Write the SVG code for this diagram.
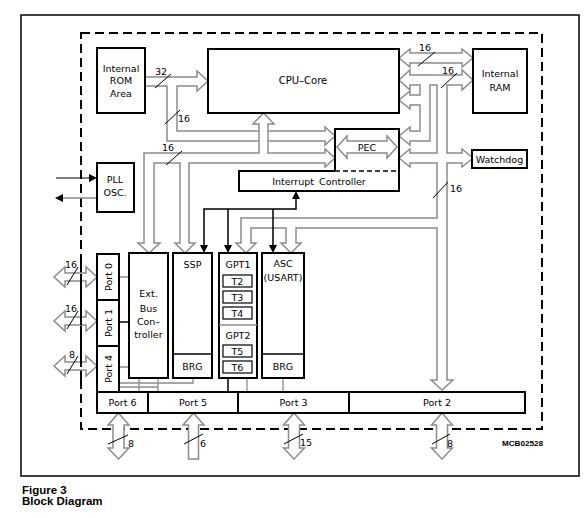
<svg xmlns="http://www.w3.org/2000/svg" width="588" height="518" viewBox="0 0 588 518">
<style>
.box{fill:#fff;stroke:#000;stroke-width:2}
.bus{fill:#fff;stroke:#8c8c8c;stroke-width:1.5;stroke-linejoin:miter}
.ln{fill:none;stroke:#8c8c8c;stroke-width:1.3}
.bl{fill:none;stroke:#000;stroke-width:1.5}
.sl{fill:none;stroke:#000;stroke-width:1}
.t{font-family:"DejaVu Sans","Liberation Sans",sans-serif;font-size:9.5px;text-anchor:middle;fill:#000}
.n{font-family:"DejaVu Sans","Liberation Sans",sans-serif;font-size:9.5px;fill:#000}
.cap{font-family:"Liberation Sans",Arial,sans-serif;font-size:11.5px;font-weight:bold;fill:#000}
</style>
<rect x="0" y="0" width="588" height="518" fill="#fff"/>
<rect x="21" y="15" width="558" height="461" fill="none" stroke="#000" stroke-width="1.5"/>
<rect x="81" y="33" width="461" height="396" fill="none" stroke="#000" stroke-width="2" stroke-dasharray="9,5"/>

<g id="connectors">
  <path class="bus" d="M145,86 L167,86 L167,141 L325,141 L325,145 L335,136 L325,127 L325,131 L177,131 L177,86 L197,86 L197,91 L208,81 L197,71 L197,77 L145,77"/>
  <path class="bus" d="M144,243 L138,243 L149,253 L160,243 L154,243 L154,163 L180,163 L180,243 L175,243 L185,253 L195,243 L189,243 L189,163 L325,163 L325,167 L335,158 L325,149 L325,153 L268,153 L268,124 L274,124 L263.5,113 L253,124 L259,124 L259,153 L144,153 Z"/>
  <path class="bus" d="M399,58 L410,49 L410,53 L462,53 L462,49 L473,58 L462,67 L462,63 L410,63 L410,67 Z"/>
  <path class="bus" d="M410,75 L410,70 L399,80 L410,90 L410,85 L420,85 L420,95 L410,95 L410,91 L399,100 L410,109 L410,105 L420,105 L420,131 L410,131 L410,127 L399,136 L410,145 L410,141 L430,141 L430,85 L437,85 L437,153 L410,153 L410,149 L399,158 L410,167 L410,163 L437,163 L437,218 L241,218 L241,243 L236,243 L246,253 L256,243 L251,243 L251,228 L286,228 L286,243 L281,243 L291,253 L301,243 L296,243 L296,228 L437,228 L437,380 L431,380 L442,390 L453,380 L447,380 L447,163 L462,163 L462,167 L473,158 L462,149 L462,153 L447,153 L447,85 L462,85 L462,90 L473,80 L462,70 L462,75 Z"/>
  <path class="bl" d="M204,247 L204,209 L296,209 L296,197 M228,209 L228,247 M273,209 L273,247"/>
  <polygon points="200,245 208,245 204,253" fill="#000"/>
  <polygon points="224,245 232,245 228,253" fill="#000"/>
  <polygon points="269,245 277,245 273,253" fill="#000"/>
  <polygon points="292,199 300,199 296,191" fill="#000"/>
  <line x1="56" y1="178" x2="90" y2="178" stroke="#000" stroke-width="1.2"/>
  <polygon points="89,174 97,178 89,182" fill="#000"/>
  <line x1="62" y1="198" x2="97" y2="198" stroke="#8c8c8c" stroke-width="1.5"/>
  <polygon points="63,194 55,198 63,202" fill="#000"/>
  <path class="ln" d="M119,277 L129,277 M119,367 L129,367 M139,378 L139,392 M158,378 L158,392 M119,383 L193,383 L193,378 M119,387 L158,387 M247,378 L247,392 M283,378 L283,392"/>
  <path class="bl" d="M119,322 L129,322 M228,378 L228,392"/>
  <path class="bus" d="M54,277 L65,267 L65,273 L86,273 L86,267 L97,277 L86,287 L86,281 L65,281 L65,287 Z"/>
  <path class="bus" d="M54,321 L65,311 L65,317 L86,317 L86,311 L97,321 L86,331 L86,325 L65,325 L65,331 Z"/>
  <path class="bus" d="M54,366 L65,356 L65,362 L86,362 L86,356 L97,366 L86,376 L86,370 L65,370 L65,376 Z"/>
  <path class="bus" d="M118.5,413 L129,425 L124,425 L124,448 L129,448 L118.5,459 L108,448 L113,448 L113,425 L108,425 Z"/>
  <path class="bus" d="M193.5,413 L204,425 L198.5,425 L198.5,459 L188.5,459 L188.5,425 L183,425 Z"/>
  <path class="bus" d="M294,413 L304.5,425 L299.5,425 L299.5,448 L304.5,448 L294,459 L283.5,448 L288.5,448 L288.5,425 L283.5,425 Z"/>
  <path class="bus" d="M442,413 L452.5,425 L447.5,425 L447.5,448 L452.5,448 L442,459 L431.5,448 L436.5,448 L436.5,425 L431.5,425 Z"/>
  <line x1="81" y1="262" x2="81" y2="384" stroke="#000" stroke-width="2" stroke-dasharray="9,5" stroke-dashoffset="2"/>
  <path class="sl" d="M155,88 L171,74 M165,124 L180,110 M166,165 L182,151 M418,66 L435,52 M441,88 L457,73 M433,198 L448,182 M67,285 L78,267 M67,329 L78,311 M67,374 L78,356 M108,444 L128,435 M184,444 L203,434 M284,444 L303,434 M432,444 L450,434"/>
  <text class="t" x="161" y="75">32</text>
  <text class="t" x="184" y="122">16</text>
  <text class="t" x="168" y="151">16</text>
  <text class="t" x="425" y="51">16</text>
  <text class="t" x="448" y="74">16</text>
  <text class="n" x="450" y="192">16</text>
  <text class="t" x="71" y="268">16</text>
  <text class="t" x="71" y="312">16</text>
  <text class="t" x="72" y="358">8</text>
  <text class="n" x="128" y="447">8</text>
  <text class="n" x="200" y="447">6</text>
  <text class="n" x="300" y="446">15</text>
  <text class="n" x="447" y="447">8</text>
</g>

<g id="rom"><rect class="box" x="97" y="48" width="48" height="65"/>
<text class="t" x="121" y="72">Internal</text><text class="t" x="121" y="84">ROM</text><text class="t" x="121" y="97">Area</text></g>
<g id="cpu"><rect class="box" x="208" y="49" width="191" height="64"/><text class="t" x="303" y="84" style="font-size:10px">CPU–Core</text></g>
<g id="ram"><rect class="box" x="473" y="49" width="54" height="64"/>
<text class="t" x="500" y="77">Internal</text><text class="t" x="500" y="91">RAM</text></g>
<g id="pec-ic"><path class="box" d="M335,171 L335,129 L399,129 L399,191 L239,191 L239,171 L335,171"/>
<line x1="335" y1="171" x2="399" y2="171" stroke="#000" stroke-width="1.3" stroke-dasharray="5,3"/>
<path class="bus" d="M337,147 L347,136 L347,141 L387,141 L387,136 L397,147 L387,158 L387,153 L347,153 L347,158 Z"/>
<text class="t" x="367" y="151">PEC</text>
<text class="t" x="319" y="185" style="word-spacing:2px">Interrupt Controller</text></g>
<g id="watchdog"><rect class="box" x="472" y="150" width="55" height="18"/><text class="t" x="499.5" y="163">Watchdog</text></g>
<g id="pll"><rect class="box" x="97" y="163" width="37" height="49"/>
<text class="t" x="115" y="183">PLL</text><text class="t" x="115" y="196">OSC.</text></g>
<g id="ebc"><rect class="box" x="129" y="253" width="39" height="125"/>
<text class="t" x="148.5" y="297">Ext.</text><text class="t" x="148.5" y="312">Bus</text><text class="t" x="148.5" y="325">Con–</text><text class="t" x="148.5" y="338">troller</text></g>
<g id="ssp"><rect class="box" x="173" y="253" width="39" height="125"/>
<line x1="173" y1="354" x2="212" y2="354" stroke="#000" stroke-width="1.3"/>
<text class="t" x="192.5" y="268">SSP</text><text class="t" x="192.5" y="370">BRG</text></g>
<g id="gpt"><rect class="box" x="219" y="253" width="38" height="125"/>
<line x1="219" y1="325" x2="257" y2="325" stroke="#8c8c8c" stroke-width="1.5"/>
<text class="t" x="238" y="268">GPT1</text>
<rect x="223" y="275" width="29" height="12" fill="#fff" stroke="#000" stroke-width="1.2"/><text class="t" x="237.5" y="285">T2</text>
<rect x="223" y="291" width="29" height="12" fill="#fff" stroke="#000" stroke-width="1.2"/><text class="t" x="237.5" y="301">T3</text>
<rect x="223" y="307" width="29" height="12" fill="#fff" stroke="#000" stroke-width="1.2"/><text class="t" x="237.5" y="317">T4</text>
<text class="t" x="238" y="339">GPT2</text>
<rect x="223" y="345" width="29" height="12" fill="#fff" stroke="#000" stroke-width="1.2"/><text class="t" x="237.5" y="355">T5</text>
<rect x="223" y="361" width="29" height="12" fill="#fff" stroke="#000" stroke-width="1.2"/><text class="t" x="237.5" y="371">T6</text></g>
<g id="asc"><rect class="box" x="262" y="253" width="42" height="125"/>
<line x1="262" y1="354" x2="304" y2="354" stroke="#000" stroke-width="1.3"/>
<text class="t" x="283" y="267">ASC</text><text class="t" x="283" y="281">(USART)</text><text class="t" x="283" y="370">BRG</text></g>
<g id="port0"><rect class="box" x="97" y="254" width="22" height="46"/><text class="t" transform="translate(111.5,277) rotate(-90)">Port  0</text></g>
<g id="port1"><rect class="box" x="97" y="300" width="22" height="46"/><text class="t" transform="translate(111.5,323) rotate(-90)">Port  1</text></g>
<g id="port4"><rect class="box" x="97" y="346" width="22" height="46"/><text class="t" transform="translate(111.5,369) rotate(-90)">Port  4</text></g>
<g id="port6"><rect class="box" x="97" y="392" width="51" height="21"/><text class="t" x="122.5" y="406">Port  6</text></g>
<g id="port5"><rect class="box" x="148" y="392" width="90" height="21"/><text class="t" x="193" y="406">Port  5</text></g>
<g id="port3"><rect class="box" x="238" y="392" width="111" height="21"/><text class="t" x="293.5" y="406">Port  3</text></g>
<g id="port2"><rect class="box" x="349" y="392" width="176" height="21"/><text class="t" x="437" y="406">Port  2</text></g>

<text x="502" y="446" font-family="'Liberation Sans',Arial,sans-serif" font-size="7.5" font-weight="bold" textLength="41" lengthAdjust="spacingAndGlyphs">MCB02528</text>
<text class="cap" x="22" y="494">Figure 3</text>
<text class="cap" x="22" y="505">Block Diagram</text>
</svg>
